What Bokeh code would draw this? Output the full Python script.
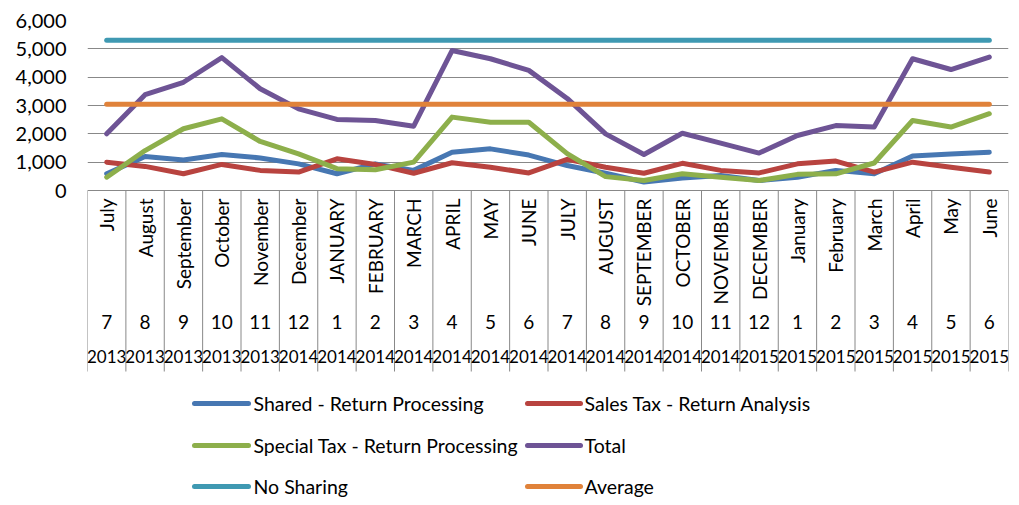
import math
from bokeh.plotting import figure
from bokeh.models import Range1d, FixedTicker, NumeralTickFormatter, ColumnDataSource
from bokeh.core.properties import value
from bokeh.embed import file_html
from bokeh.resources import INLINE

# ---------------- data ----------------
months = ["July", "August", "September", "October", "November", "December",
          "JANUARY", "FEBRUARY", "MARCH", "APRIL", "MAY", "JUNE",
          "JULY", "AUGUST", "SEPTEMBER", "OCTOBER", "NOVEMBER", "DECEMBER",
          "January", "February", "March", "April", "May", "June"]
month_nums = ["7", "8", "9", "10", "11", "12", "1", "2", "3", "4", "5", "6",
              "7", "8", "9", "10", "11", "12", "1", "2", "3", "4", "5", "6"]
years = ["2013", "2013", "2013", "2013", "2013", "2014", "2014", "2014", "2014", "2014", "2014", "2014",
         "2014", "2014", "2014", "2014", "2014", "2015", "2015", "2015", "2015", "2015", "2015", "2015"]

shared = [590, 1200, 1080, 1270, 1150, 940, 590, 940, 710, 1350, 1470, 1250,
          880, 610, 300, 440, 530, 350, 470, 710, 590, 1220, 1290, 1350]
sales = [1000, 850, 590, 920, 710, 650, 1120, 920, 610, 980, 820, 620,
         1100, 820, 610, 960, 710, 620, 940, 1040, 650, 1000, 820, 650]
special = [470, 1410, 2180, 2530, 1730, 1290, 770, 730, 1000, 2590, 2410, 2410,
           1300, 490, 350, 590, 470, 350, 570, 590, 970, 2470, 2240, 2710]
total = [2000, 3380, 3820, 4690, 3590, 2880, 2510, 2470, 2270, 4940, 4650, 4240,
         3250, 2000, 1270, 2020, 1670, 1320, 1940, 2290, 2240, 4650, 4270, 4710]
no_sharing = [5300] * 24
average = [3040] * 24

series_names = ["Shared - Return Processing", "Sales Tax - Return Analysis",
                "Special Tax - Return Processing", "Total", "No Sharing", "Average"]
series_values = [shared, sales, special, total, no_sharing, average]
series_colors = ["#4777B2", "#B8433F", "#8DAF4B", "#6E5495", "#3F99B2", "#E0823A"]
y_ticks = [0, 1000, 2000, 3000, 4000, 5000, 6000]

# ---------------- geometry helpers (pixel -> data) ----------------
FONT = "Lato"
PX = 6000 / 170.0            # data units per vertical pixel
CELL = 921 / 24.0            # pixels per category
def ypx(page_y):
    return -(page_y - 190) * PX
def xpx(page_x):
    return (page_x - 87) / CELL - 0.5

n = len(months)
xs = list(range(n))

p = figure(width=1011, height=503, output_backend="svg", toolbar_location=None,
           x_range=Range1d(-0.5, n - 0.5), y_range=Range1d(ypx(503), 6000),
           x_axis_location=None, min_border_left=87, min_border_right=3,
           min_border_top=20, min_border_bottom=0)
p.outline_line_color = None
p.background_fill_color = "white"
p.border_fill_color = "white"

# y axis
p.yaxis.ticker = FixedTicker(ticks=y_ticks)
p.yaxis.formatter = NumeralTickFormatter(format="0,0")
p.yaxis.axis_line_color = None
p.yaxis.major_tick_line_color = None
p.yaxis.minor_tick_line_color = None
p.yaxis.major_tick_out = 0
p.yaxis.major_label_standoff = 21
p.yaxis.major_label_text_font = FONT
p.yaxis.major_label_text_font_size = "20px"
p.yaxis.major_label_text_color = "#000000"

p.xgrid.visible = False
p.ygrid.ticker = FixedTicker(ticks=y_ticks)
p.ygrid.grid_line_color = "#888888"
p.ygrid.grid_line_width = 1

# category axis separators
bounds = [i - 0.5 for i in range(n + 1)]
p.segment(x0=bounds, y0=[0] * len(bounds), x1=bounds, y1=[ypx(371)] * len(bounds),
          line_color="#888888", line_width=1)

cat_src = ColumnDataSource(dict(x=xs, m=months, num=month_nums, yr=years))
p.text(x="x", y=ypx(198), text="m", source=cat_src, angle=math.pi / 2,
       text_align="right", text_baseline="middle", text_font=value(FONT),
       text_font_size="19px", text_color="#000000")
p.text(x="x", y=ypx(321), text="num", source=cat_src,
       text_align="center", text_baseline="middle", text_font=value(FONT),
       text_font_size="19px", text_color="#000000")
p.text(x="x", y=ypx(356), text="yr", source=cat_src,
       text_align="center", text_baseline="middle", text_font=value(FONT),
       text_font_size="17px", text_color="#000000")

# series lines
for vals, col in zip(series_values, series_colors):
    p.line(xs, vals, line_color=col, line_width=5, line_cap="round", line_join="round")

# legend (drawn manually, two columns x three rows)
col_line_x = [(194, 248), (527, 580)]
col_text_x = [253, 584]
row_y = [403, 445, 486]
for i, (name, col) in enumerate(zip(series_names, series_colors)):
    r, c = divmod(i, 2)
    x0, x1 = col_line_x[c]
    yy = ypx(row_y[r])
    p.line([xpx(x0), xpx(x1)], [yy, yy], line_color=col, line_width=5, line_cap="round")
    p.text(x=[xpx(col_text_x[c])], y=[yy], text=[name], text_align="left",
           text_baseline="middle", text_font=value(FONT), text_font_size="19.5px",
           text_color="#000000")

open("out.html", "w").write(file_html(p, INLINE))
